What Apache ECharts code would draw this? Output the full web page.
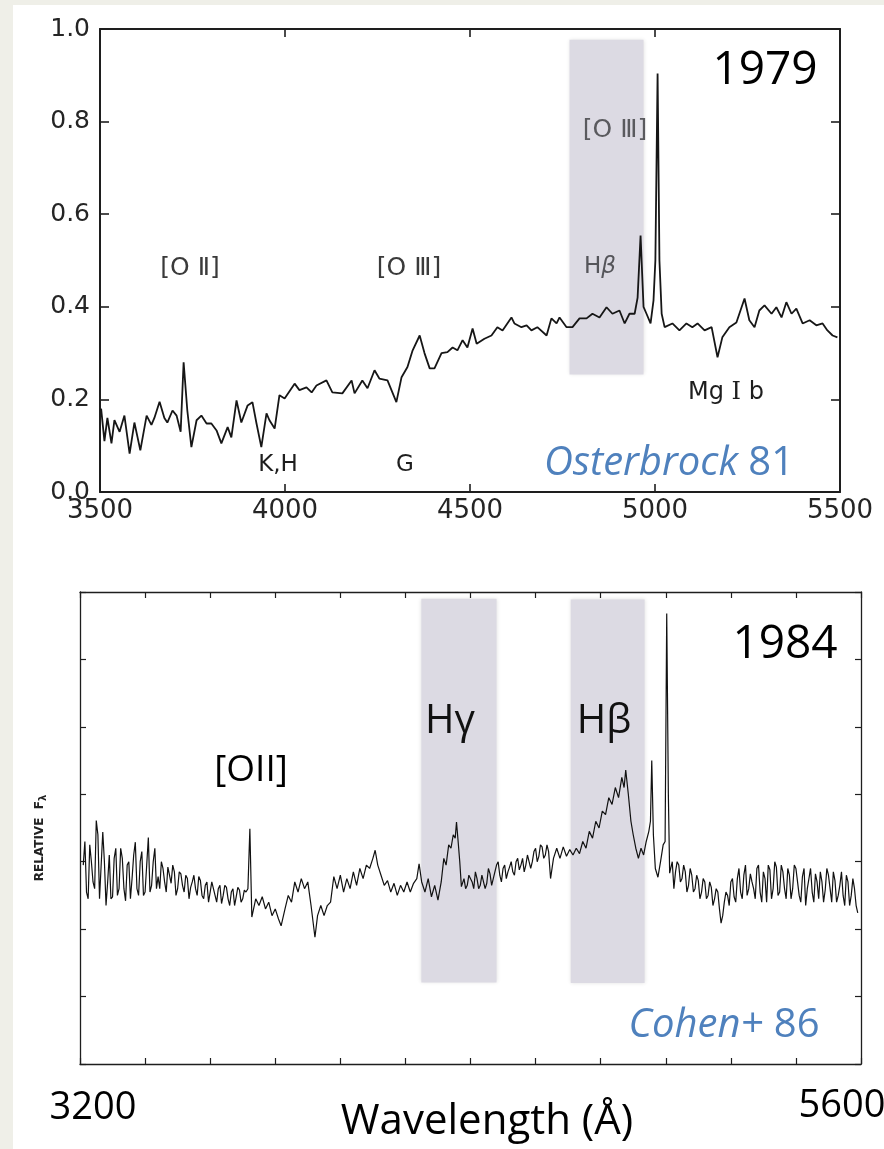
<!DOCTYPE html>
<html><head><meta charset="utf-8">
<script src="https://cdn.jsdelivr.net/npm/echarts/dist/echarts.min.js"></script>
<style>html,body{margin:0;padding:0;background:#fff;} #c{width:884px;height:1149px;}</style>
</head><body><div id="c"></div><script>
// ---- Data ----
// Osterbrock 81 (1979) spectrum: [wavelength Å, relative flux]
const osterbrockSpectrum = [
[3503,0.18],[3512,0.11],[3520,0.16],[3531,0.105],[3539,0.155],[3553,0.13],[3566,0.165],[3580,0.083],[3593,0.15],[3609,0.09],
[3626,0.165],[3639,0.145],[3647,0.16],[3661,0.195],[3674,0.16],[3682,0.15],[3696,0.176],[3707,0.165],[3718,0.13],[3726,0.28],
[3736,0.176],[3747,0.097],[3761,0.155],[3774,0.165],[3788,0.148],[3801,0.148],[3815,0.133],[3828,0.105],[3845,0.14],[3855,0.118],
[3869,0.198],[3882,0.15],[3899,0.187],[3912,0.194],[3923,0.148],[3936,0.097],[3950,0.17],[3958,0.155],[3972,0.137],[3985,0.209],
[3999,0.202],[4026,0.234],[4039,0.22],[4058,0.226],[4072,0.215],[4085,0.23],[4112,0.241],[4128,0.215],[4155,0.213],[4180,0.241],
[4188,0.213],[4209,0.241],[4223,0.224],[4242,0.263],[4255,0.245],[4277,0.241],[4301,0.194],[4315,0.248],[4331,0.27],[4345,0.306],
[4364,0.338],[4377,0.3],[4391,0.267],[4404,0.267],[4423,0.3],[4439,0.302],[4453,0.312],[4466,0.306],[4480,0.328],[4493,0.312],
[4507,0.353],[4518,0.32],[4539,0.331],[4558,0.338],[4574,0.356],[4588,0.349],[4612,0.377],[4620,0.364],[4639,0.356],[4653,0.36],
[4666,0.349],[4682,0.356],[4707,0.338],[4720,0.375],[4734,0.364],[4742,0.377],[4761,0.356],[4777,0.356],[4796,0.375],[4815,0.375],
[4831,0.385],[4850,0.377],[4869,0.399],[4885,0.385],[4904,0.392],[4918,0.364],[4931,0.385],[4945,0.385],[4953,0.42],[4961,0.554],
[4969,0.40],[4977,0.385],[4988,0.364],[4996,0.414],[5001,0.5],[5007,0.904],[5012,0.5],[5018,0.385],[5026,0.356],[5047,0.364],
[5066,0.349],[5085,0.364],[5101,0.356],[5115,0.364],[5134,0.349],[5153,0.356],[5169,0.291],[5182,0.334],[5201,0.356],[5220,0.366],
[5242,0.418],[5255,0.371],[5269,0.356],[5282,0.392],[5296,0.403],[5315,0.385],[5328,0.399],[5342,0.377],[5355,0.41],[5369,0.385],
[5382,0.396],[5399,0.364],[5418,0.371],[5436,0.36],[5453,0.364],[5466,0.349],[5480,0.338],[5493,0.334]
];
// Cohen+ 86 (1984) spectrum: [wavelength Å, relative F_lambda (tick units)]
const cohenSpectrum = [
[3210,2.95],[3220,2.55],[3230,3.25],[3240,2.7],[3250,3.61],[3260,2.45],[3270,3.44],[3280,2.35],[3290,3.1],[3300,2.48],
[3310,3.2],[3320,2.6],[3330,3.05],[3340,2.42],[3350,3.0],[3360,2.75],[3370,3.29],[3380,2.5],[3390,3.15],[3400,2.55],
[3410,3.36],[3420,2.65],[3430,3.2],[3440,2.78],[3450,3.0],[3460,2.7],[3470,2.92],[3480,2.68],[3490,2.85],[3500,2.6],
[3510,2.82],[3520,2.55],[3530,2.75],[3540,2.62],[3550,2.8],[3560,2.5],[3570,2.72],[3580,2.45],[3590,2.7],[3600,2.55],
[3610,2.68],[3620,2.4],[3630,2.65],[3640,2.5],[3650,2.62],[3660,2.35],[3670,2.6],[3680,2.48],[3690,2.58],[3700,2.45],
[3710,2.55],[3716,2.6],[3722,3.49],[3728,2.18],[3740,2.45],[3750,2.35],[3760,2.48],[3770,2.3],[3780,2.4],[3790,2.2],
[3800,2.3],[3810,2.15],[3818,2.05],[3830,2.3],[3840,2.5],[3850,2.4],[3860,2.7],[3870,2.55],[3880,2.75],[3890,2.6],
[3900,2.7],[3910,2.35],[3922,1.88],[3930,2.2],[3940,2.35],[3950,2.2],[3960,2.35],[3970,2.4],[3980,2.78],[3990,2.6],
[4000,2.8],[4010,2.55],[4020,2.75],[4030,2.6],[4040,2.85],[4050,2.65],[4060,2.9],[4070,2.75],[4080,2.95],[4090,2.9],
[4100,3.05],[4107,3.17],[4115,2.95],[4125,2.8],[4135,2.65],[4145,2.72],[4155,2.55],[4165,2.68],[4175,2.5],[4185,2.65],
[4195,2.55],[4205,2.7],[4215,2.55],[4225,2.68],[4235,2.75],[4242,2.97],[4250,2.7],[4260,2.55],[4270,2.75],[4280,2.48],
[4290,2.65],[4300,2.43],[4310,2.7],[4318,3.05],[4325,2.95],[4333,3.25],[4340,3.2],[4347,3.4],[4353,3.35],[4357,3.59],
[4362,3.3],[4367,3.0],[4372,2.63],[4380,2.75],[4390,2.65],[4400,2.8],[4410,2.6],[4420,2.75],[4430,2.65],[4440,2.78],
[4450,2.68],[4460,2.82],[4470,2.75],[4480,2.95],[4490,2.8],[4500,2.9],[4510,2.75],[4520,2.92],[4530,2.85],[4540,3.0],
[4550,2.88],[4560,3.05],[4570,2.95],[4580,3.12],[4590,3.0],[4600,3.2],[4610,3.08],[4620,3.22],[4630,3.1],[4640,3.15],
[4646,2.75],[4655,3.05],[4665,3.2],[4675,3.05],[4685,3.22],[4695,3.08],[4705,3.18],[4715,3.1],[4725,3.2],[4735,3.12],
[4745,3.3],[4755,3.2],[4765,3.45],[4775,3.35],[4785,3.6],[4795,3.5],[4805,3.75],[4815,3.7],[4825,3.95],[4835,3.85],
[4845,4.1],[4855,3.95],[4865,4.25],[4872,4.1],[4877,4.36],[4885,4.0],[4893,3.6],[4900,3.4],[4908,3.2],[4916,3.05],
[4924,3.2],[4932,3.1],[4940,3.3],[4948,3.45],[4953,3.6],[4957,4.5],[4962,3.4],[4968,2.9],[4976,2.77],[4984,3.0],
[4992,3.25],[4998,3.3],[5003,6.68],[5008,4.0],[5012,2.83],[5020,3.0],[5030,2.85],[5040,2.95],[5050,2.75],[5060,2.85],
[5070,2.65],[5080,2.8],[5090,2.6],[5100,2.72],[5110,2.55],[5120,2.7],[5130,2.5],[5140,2.62],[5150,2.45],[5160,2.55],
[5170,2.09],[5180,2.4],[5190,2.5],[5200,2.7],[5210,2.48],[5220,2.75],[5230,2.55],[5240,2.8],[5250,2.5],[5260,2.82],
[5270,2.6],[5280,2.9],[5290,2.55],[5300,2.85],[5310,2.4],[5320,2.88],[5330,2.6],[5340,2.92],[5350,2.55],[5360,2.85],
[5370,2.45],[5380,2.8],[5390,2.6],[5400,2.9],[5410,2.5],[5420,2.78],[5430,2.35],[5440,2.75],[5450,2.55],[5460,2.82],
[5470,2.45],[5480,2.7],[5490,2.58],[5500,2.8],[5510,2.4],[5520,2.72],[5530,2.5],[5540,2.85],[5550,2.35],[5560,2.7],
[5570,2.5],[5580,2.6],[5590,2.24]
];
// finer noise samples read between the points above
const cohenNoiseDetail = [
[3215,3.3],[3225,2.45],[3235,3.0],[3245,2.6],[3255,3.4],[3265,2.43],[3275,3.0],[3285,2.7],[3295,2.45],[3305,3.05],
[3315,2.5],[3325,3.2],[3335,2.6],[3345,2.95],[3355,2.45],[3365,3.1],[3375,2.6],[3385,3.0],[3395,2.5],[3405,2.95],
[3415,2.55],[3425,3.0],[3435,2.6],[3445,2.6],[3455,2.9],[3465,2.55],[3475,2.8],[3485,2.95],[3495,2.5],[3505,2.85],
[3515,2.65],[3525,2.8],[3535,2.45],[3545,2.7],[3555,2.6],[3565,2.78],[3575,2.5],[3585,2.65],[3595,2.4],[3605,2.7],
[3615,2.5],[3625,2.6],[3635,2.38],[3645,2.65],[3655,2.45],[3665,2.55],[3675,2.35],[3685,2.62],[3695,2.4],[3705,2.58],
[4385,2.6],[4395,2.8],[4405,2.7],[4415,2.85],[4425,2.6],[4435,2.8],[4445,2.6],[4455,2.9],[4465,2.65],[4475,2.85],
[4485,3.0],[4495,2.7],[4505,2.95],[4515,2.85],[4525,3.0],[4535,2.8],[4545,3.05],[4555,2.95],[4565,2.85],[4575,3.1],
[4585,2.9],[4595,3.15],[4605,3.0],[4615,3.25],[4625,3.05],[4635,3.25],
[5025,2.6],[5035,3.0],[5045,2.7],[5055,2.95],[5065,2.55],[5075,2.9],[5085,2.55],[5095,2.8],[5105,2.45],[5115,2.75],
[5125,2.45],[5135,2.7],[5145,2.35],[5155,2.6],[5165,2.3],[5175,2.2],[5185,2.55],[5195,2.35],[5205,2.75],[5215,2.4],
[5225,2.9],[5235,2.45],[5245,2.95],[5255,2.6],[5265,2.7],[5275,2.45],[5285,2.95],[5295,2.4],[5305,2.75],[5315,2.95],
[5325,2.45],[5335,3.0],[5345,2.5],[5355,2.95],[5365,2.6],[5375,2.9],[5385,2.45],[5395,2.95],[5405,2.7],[5415,2.4],
[5425,2.9],[5435,2.6],[5445,2.9],[5455,2.4],[5465,2.7],[5475,2.85],[5485,2.4],[5495,2.9],[5505,2.6],[5515,2.85],
[5525,2.4],[5535,2.65],[5545,2.5],[5555,2.8],[5565,2.35],[5575,2.75],[5585,2.35]
];
// Highlighted wavelength bands: [x0, x1, y0, y1]
const topBands = [[4769, 4969, 0.254, 0.977]];
const bottomBands = [[4249, 4480, 1.21, 6.9], [4708, 4935, 1.20, 6.89]];
// Axis ranges / tick labels
const topXRange = [3500, 5500, 500];
const topYRange = [0, 1, 0.2];
const botXRange = [3200, 5600, 200];
const botYRange = [0, 7, 1];
const bottomEndLabels = ['3200', '5600'];

// ---- Chart ----
const cohenAll = cohenSpectrum.concat(cohenNoiseDetail).sort((a, b) => a[0] - b[0]);
const chart = echarts.init(document.getElementById('c'), null, {renderer: 'canvas'});
const ink = '#1e1e1e';
function axisX(grid, r, pos, opts) {
  return Object.assign({
    gridIndex: grid, type: 'value', min: r[0], max: r[1], interval: r[2], position: pos,
    axisLine: {show: true, onZero: false, lineStyle: {color: ink, width: opts.lw}},
    axisTick: {show: true, inside: true, length: opts.tl, lineStyle: {color: ink, width: opts.tw}},
    axisLabel: {show: false}, splitLine: {show: false}
  }, opts.extra || {});
}
const SANS = 'DejaVu Sans';
const OS = '"Open Sans", "Noto Sans", sans-serif';
const blue = '#4f81bd';
const RN = '"DejaVu Sans"';

const option = {
  backgroundColor: '#ffffff',
  animation: false,
  grid: [
    {left: 100, top: 29, width: 740, height: 463},
    {left: 80, top: 592, width: 781, height: 472}
  ],
  xAxis: [
    axisX(0, topXRange, 'bottom', {lw: 2, tl: 8, tw: 1.6, extra: {axisLabel: {show: true, fontFamily: SANS, fontSize: 26, color: '#252525', margin: 6, formatter: v => String(v)}}}),
    axisX(0, topXRange, 'top', {lw: 2, tl: 8, tw: 1.6}),
    axisX(1, botXRange, 'bottom', {lw: 1.3, tl: 6, tw: 1.2}),
    axisX(1, botXRange, 'top', {lw: 1.3, tl: 6, tw: 1.2})
  ],
  yAxis: [
    axisX(0, topYRange, 'left', {lw: 2, tl: 9, tw: 1.6, extra: {axisLabel: {show: true, fontFamily: SANS, fontSize: 25, color: '#252525', margin: 10, formatter: v => v.toFixed(1)}}}),
    axisX(0, topYRange, 'right', {lw: 2, tl: 9, tw: 1.6}),
    axisX(1, botYRange, 'left', {lw: 1.3, tl: 6, tw: 1.2}),
    axisX(1, botYRange, 'right', {lw: 1.3, tl: 6, tw: 1.2})
  ],
  series: [
    {
      type: 'line', xAxisIndex: 0, yAxisIndex: 0, data: [], z: 1, silent: true,
      markArea: {silent: true, itemStyle: {color: '#dcdae3', shadowBlur: 4, shadowColor: 'rgba(0,0,0,0.12)'},
        data: topBands.map(b => [{coord: [b[0], b[3]]}, {coord: [b[1], b[2]]}])}
    },
    {
      type: 'line', xAxisIndex: 2, yAxisIndex: 2, data: [], z: 1, silent: true,
      markArea: {silent: true, itemStyle: {color: '#dcdae3', shadowBlur: 4, shadowColor: 'rgba(0,0,0,0.12)'},
        data: bottomBands.map(b => [{coord: [b[0], b[3]]}, {coord: [b[1], b[2]]}])}
    },
    {
      type: 'line', xAxisIndex: 0, yAxisIndex: 0, data: osterbrockSpectrum, z: 3,
      showSymbol: false, symbol: 'none', lineStyle: {color: '#161616', width: 1.8}
    },
    {
      type: 'line', xAxisIndex: 2, yAxisIndex: 2, data: cohenAll, z: 3,
      showSymbol: false, symbol: 'none', lineStyle: {color: '#111', width: 1.2}
    }
  ],
  graphic: {elements: [
    {type: 'rect', shape: {x: 0, y: 0, width: 13, height: 1149}, style: {fill: '#efefe8'}, silent: true},
    {type: 'rect', shape: {x: 0, y: 0, width: 884, height: 5}, style: {fill: '#efefe8'}, silent: true},
    // top panel annotations
    {type: 'text', x: 190, y: 268, z: 10, style: {text: '[O {r|Ⅱ}]', align: 'center', verticalAlign: 'middle', font: '25px "DejaVu Sans"', fill: '#3a3a3a', rich: {r: {font: '25px ' + RN, fill: '#3a3a3a'}}}},
    {type: 'text', x: 409, y: 268, z: 10, style: {text: '[O {r|Ⅲ}]', align: 'center', verticalAlign: 'middle', font: '25px "DejaVu Sans"', fill: '#3a3a3a', rich: {r: {font: '25px ' + RN, fill: '#3a3a3a'}}}},
    {type: 'text', x: 615, y: 130, z: 10, style: {text: '[O {r|Ⅲ}]', align: 'center', verticalAlign: 'middle', font: '25px "DejaVu Sans"', fill: '#5a5a5e', rich: {r: {font: '25px ' + RN, fill: '#5a5a5e'}}}},
    {type: 'text', x: 600, y: 267, z: 10, style: {text: 'H{b|β}', align: 'center', verticalAlign: 'middle', font: '23px "DejaVu Sans"', fill: '#55555a', rich: {b: {font: 'italic 23px "DejaVu Sans"', fill: '#55555a'}}}},
    {type: 'text', x: 278, y: 465, z: 10, style: {text: 'K,H', align: 'center', verticalAlign: 'middle', font: '23px "DejaVu Sans"', fill: '#1e1e1e'}},
    {type: 'text', x: 405, y: 465, z: 10, style: {text: 'G', align: 'center', verticalAlign: 'middle', font: '23px "DejaVu Sans"', fill: '#1e1e1e'}},
    {type: 'text', x: 726, y: 393, z: 10, style: {text: 'Mg {r|I} b', align: 'center', verticalAlign: 'middle', font: '24px "DejaVu Sans"', fill: '#1e1e1e', rich: {r: {font: '24px "DejaVu Serif"', fill: '#1e1e1e'}}}},
    {type: 'text', x: 765, y: 71, z: 10, style: {text: '1979', align: 'center', verticalAlign: 'middle', font: '46px ' + OS, fill: '#000'}},
    {type: 'text', x: 669, y: 464, z: 10, style: {text: '{i|Osterbrock} 81', align: 'center', verticalAlign: 'middle', font: '40px ' + OS, fill: blue, rich: {i: {font: 'italic 40px ' + OS, fill: blue}}}},
    // bottom panel annotations
    {type: 'text', x: 785, y: 645, z: 10, style: {text: '1984', align: 'center', verticalAlign: 'middle', font: '46px ' + OS, fill: '#000'}},
    {type: 'text', x: 251, y: 770, z: 10, style: {text: '[OII]', align: 'center', verticalAlign: 'middle', font: '37px ' + OS, fill: '#000'}},
    {type: 'text', x: 450, y: 722, z: 10, style: {text: 'Hγ', align: 'center', verticalAlign: 'middle', font: '40px ' + OS, fill: '#111'}},
    {type: 'text', x: 604, y: 722, z: 10, style: {text: 'Hβ', align: 'center', verticalAlign: 'middle', font: '40px ' + OS, fill: '#111'}},
    {type: 'text', x: 724, y: 1026, z: 10, style: {text: '{i|Cohen+} 86', align: 'center', verticalAlign: 'middle', font: '40px ' + OS, fill: blue, rich: {i: {font: 'italic 40px ' + OS, fill: blue}}}},
    {type: 'text', x: 40, y: 838, z: 10, rotation: Math.PI / 2, style: {text: 'RELATIVE  F{s|λ}', align: 'center', verticalAlign: 'middle', font: 'bold 12px "DejaVu Sans"', fill: '#222', rich: {s: {font: 'bold 10px "DejaVu Sans"', fill: '#222', padding: [6, 0, 0, 0]}}}},
    {type: 'text', x: 93, y: 1108, z: 10, style: {text: bottomEndLabels[0], align: 'center', verticalAlign: 'middle', font: '38px ' + OS, fill: '#000'}},
    {type: 'text', x: 842, y: 1106, z: 10, style: {text: bottomEndLabels[1], align: 'center', verticalAlign: 'middle', font: '38px ' + OS, fill: '#000'}},
    {type: 'text', x: 487, y: 1122, z: 10, style: {text: 'Wavelength (Å)', align: 'center', verticalAlign: 'middle', font: '42px ' + OS, fill: '#000'}}
  ]}
};
chart.setOption(option);
</script></body></html>
